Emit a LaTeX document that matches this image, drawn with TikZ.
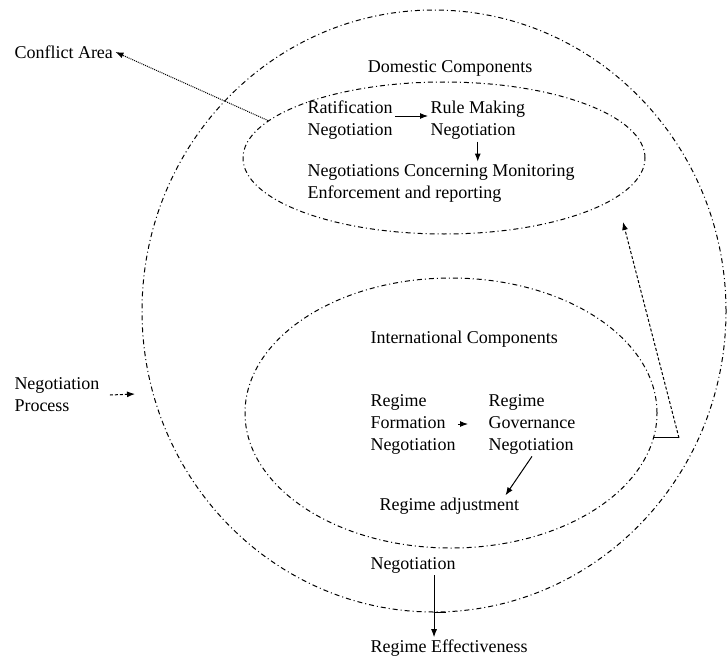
\documentclass[tikz,border=0pt]{standalone}
\usepackage{fontspec}
\setmainfont{Liberation Serif}
\usetikzlibrary{shapes.geometric,arrows.meta}
\newcommand{\ring}[4]{
\node[draw,ellipse,inner sep=0,minimum width=#3,minimum height=#4,
  dash pattern=on 5pt off 3pt on 1pt off 3pt] (#1) at (#2) {};}
\newcommand{\txt}[3]{
\node[lbl] (#1) at (#2) {#3};}

\begin{document}
\begin{tikzpicture}[x=1pt,y=-1pt,line width=1pt,
  >={Latex[length=8pt,width=6pt]},
  lbl/.style={anchor=west,align=left,inner sep=2pt,font=\fontsize{18}{22}\selectfont}]
\useasboundingbox (0,0) rectangle (727,658);
\ring{outer}{434,311}{584pt}{602pt}
\ring{dom}{444,158}{402pt}{152pt}
\ring{int}{451,413}{412pt}{270pt}

\txt{conf}{12,52}{Conflict Area}
\txt{negp}{12,395}{Negotiation\\Process}
\node[lbl,anchor=center] (domt) at (450,68) {Domestic Components};
\txt{rat}{305,120}{Ratification\\Negotiation}
\txt{rule}{428,120}{Rule Making\\Negotiation}
\txt{mon}{305,183}{Negotiations Concerning Monitoring\\Enforcement and reporting}
\txt{intt}{368,339}{International Components}
\txt{form}{368,424}{Regime\\Formation\\Negotiation}
\txt{gov}{486,424}{Regime\\Governance\\Negotiation}
\txt{adj}{377,506}{Regime adjustment}
\txt{neg}{368,565}{Negotiation}
\txt{eff}{368,648}{Regime Effectiveness}

\coordinate (np) at (135,394);
\coordinate (rtip) at (623,222);

% arrows
\draw[->,densely dotted] (dom.168) -- (conf.east);
\draw[->,densely dashed] ([xshift=8pt]negp.east) -- (np);
\draw[->] ([yshift=4pt]rat.east) -- ([yshift=4pt]rule.west);
\draw[->] (rule.south) -- (rule.south |- mon.north);
\draw[->,shorten >=18pt] (form.east) -- (gov.west);
\draw[->] (gov.south) -- ([xshift=-16pt]adj.north east);
\draw[->] ([xshift=-15pt]eff.north |- neg.south) -- ([xshift=-15pt]eff.north);
\draw (outer.south) -- ++(12,0);
\draw (int.-7) -- ++(25,0) coordinate (rk);
\draw[->,densely dashed] (rk) -- (rtip);

\end{tikzpicture}
\end{document}
